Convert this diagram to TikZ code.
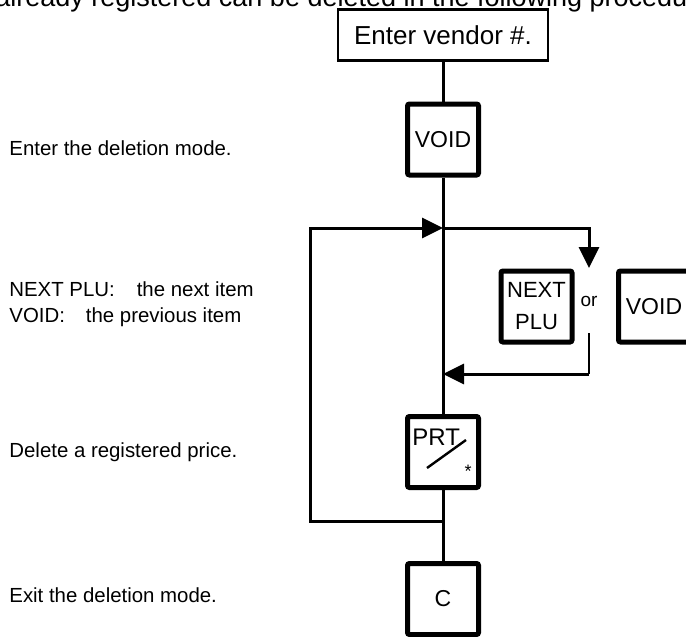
\documentclass[tikz,border=0pt]{standalone}
\usepackage{fontspec}
\setmainfont{Liberation Sans}
\usetikzlibrary{
  arrows.meta,
  positioning
}
\tikzset{
  keybox/.style={
    draw=black, fill=white, line width=2.5pt, rounded corners=1pt,
    minimum width=35.5pt, minimum height=35.5pt, inner sep=0pt,
    align=center, font=\fontsize{11.5}{13}\selectfont
  },
  entrybox/.style={
    draw=black, fill=white, line width=1.4pt,
    minimum width=105pt, minimum height=25.5pt, inner sep=0pt,
    font=\fontsize{13}{15}\selectfont
  },
  flowline/.style={
    draw=black, line width=1.5pt
  },
  flowarrow/.style={
    -{Triangle[length=10.5pt,width=10pt]},
    draw=black, line width=1.5pt
  },
  notelabel/.style={
    anchor=base west, inner sep=0pt,
    font=\fontsize{10.2}{13}\selectfont
  },
}

\begin{document}
\begin{tikzpicture}[x=0.5pt, y=-0.5pt]

  \useasboundingbox (0,0) rectangle (686,637);

  %% cut-off heading line
  \node[anchor=base west, inner sep=0pt, font=\fontsize{13.5}{16}\selectfont]
    (intro) at (-5,6) {already registered can be deleted in the following procedure.};

  %% Key column
  \node[entrybox] (vendor) at (443,35) {Enter vendor \#.};
  \node[keybox] (void) at (443,139.5) {VOID};
  \node[keybox] (prt) at (443,452) {};
  \node[keybox] (clear) at (443,599) {C};

  %% PRT key face
  \node[anchor=base west, inner sep=0pt, font=\fontsize{12}{14}\selectfont]
    (prtlabel) at (412,445) {PRT};
  \draw[line width=1.2pt] ([shift={(-16,16)}]prt.center) -- ([shift={(23,-12)}]prt.center);
  \node[inner sep=0pt, font=\fontsize{9}{10}\selectfont]
    (prtstar) at ([shift={(25,19)}]prt.center) {*};

  %% Choice keys
  \node[keybox, font=\fontsize{11}{16}\selectfont] (next) at (536.5,306.5) {NEXT\\PLU};
  \node[inner sep=0pt, font=\fontsize{9.5}{11}\selectfont] (or) at (589,301) {or};
  \node[keybox] (voidalt) at (654,306.5) {VOID};

  %% Junctions
  \coordinate (loopin) at (443,228);
  \coordinate (loopleft) at (310,228);
  \coordinate (loopout) at (443,521);
  \coordinate (choicein) at (589,268);
  \coordinate (choiceout) at (589,333);
  \coordinate (choicecorner) at (589,374);
  \coordinate (branch) at (443,374);

  %% Main flow
  \draw[flowline] (vendor) -- (void);
  \draw[flowline] (void) -- (prt);
  \draw[flowline] (prt) -- (clear);

  %% Loop back
  \draw[flowarrow] (loopout) -| (loopleft) -- (loopin);

  %% Into and out of the choice
  \draw[flowarrow] (loopin) -| (choicein);
  \draw[line width=0.9pt] (choiceout) -- (choicecorner);
  \draw[flowarrow] (choicecorner) -- (branch);

  %% Notes
  \node[notelabel] (modein) at (9,155) {Enter the deletion mode.};
  \node[notelabel] (nextnote) at (9,296) {NEXT PLU:\hspace{11pt}the next item};
  \node[notelabel] (voidnote) at (9,322) {VOID:\hspace{10.5pt}the previous item};
  \node[notelabel] (pricenote) at (9,457) {Delete a registered price.};
  \node[notelabel] (exitnote) at (9,602) {Exit the deletion mode.};

\end{tikzpicture}
\end{document}
